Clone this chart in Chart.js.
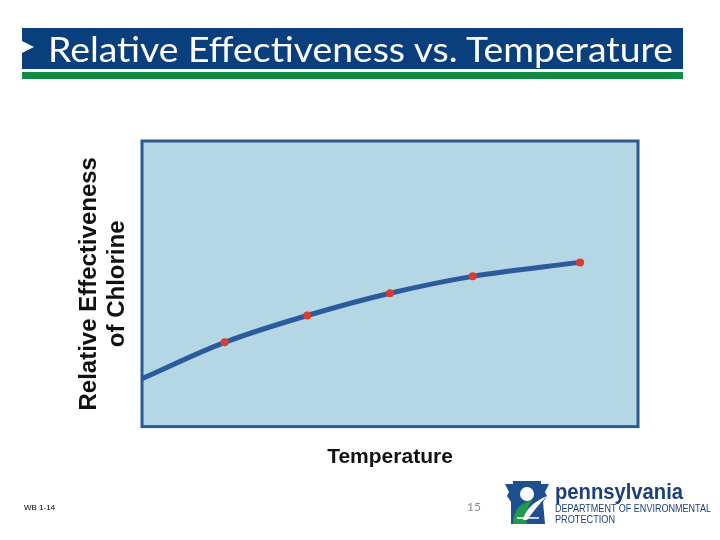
<!DOCTYPE html>
<html>
<head>
<meta charset="utf-8">
<script src="https://cdn.jsdelivr.net/npm/chart.js@4.4.1/dist/chart.umd.min.js"></script>
<style>
  html, body { margin: 0; padding: 0; background: #ffffff; }
  body { width: 720px; height: 540px; position: relative; overflow: hidden; }
  #chart { position: absolute; left: 0; top: 0; }
  .banner { position: absolute; left: 22px; top: 28px; width: 661px; height: 41px; background: #0a3f7d; }
  .arrow { position: absolute; left: 22px; top: 41px; width: 0; height: 0;
    border-top: 6px solid transparent; border-bottom: 6px solid transparent; border-left: 12px solid #ffffff; }
  .green { position: absolute; left: 22px; top: 72px; width: 661px; height: 7px; background: #138a43; }
  .fit { position: absolute; white-space: nowrap; transform-origin: 0 50%; }
  #title { left: 48px; top: 28px; height: 41px; line-height: 41px; color: #ffffff;
    font-family: Lato, "Open Sans", sans-serif; font-size: 35px; }
  .wb { position: absolute; left: 24px; top: 503px; font: 8px "Liberation Sans", Arial, sans-serif; color: #000; }
  .page { position: absolute; left: 467px; top: 499px; font: 12px Lato, sans-serif; color: #8a8a8a; }
  .logo { position: absolute; left: 503px; top: 480px; }
  #pa { left: 555px; top: 479px; line-height: 24px; font: bold 22px "Liberation Sans", sans-serif; color: #1d3f7a; }
  #dep1 { left: 555px; top: 503px; line-height: 12px; font: 10px "Liberation Sans", sans-serif; color: #1d3f7a; }
  #dep2 { left: 555px; top: 514px; line-height: 12px; font: 10px "Liberation Sans", sans-serif; color: #1d3f7a; }
</style>
</head>
<body>
<canvas id="chart" width="720" height="540"></canvas>
<div class="banner"></div>
<div class="arrow"></div>
<div class="green"></div>
<div id="title" class="fit">Relative Effectiveness vs. Temperature</div>
<div class="wb">WB 1-14</div>
<div class="page">15</div>
<svg class="logo" width="48" height="46" viewBox="0 0 48 46">
  <polygon points="2,4 10,4 10,1 38,1 38,4 46,4 42,12 44,16 40,22 42,44 8,44 8,22 4,16 6,12" fill="#1e4f8f"/>
  <circle cx="24" cy="14" r="7" fill="#ffffff"/>
  <path d="M10,44 C10,30 18,22 30,20 C24,26 22,34 24,44 Z" fill="#1f9a4a"/>
  <path d="M20,40 C22,30 30,22 44,16 C36,24 30,32 24,40 Z" fill="#ffffff"/>
  <path d="M14,38 L36,38" stroke="#ffffff" stroke-width="1.5"/>
</svg>
<div id="pa" class="fit">pennsylvania</div>
<div id="dep1" class="fit">DEPARTMENT OF ENVIRONMENTAL</div>
<div id="dep2" class="fit">PROTECTION</div>
<script>
  // valores (eixos sem escala numérica)
  const temperature = [0, 10, 20, 30, 40, 53];
  const effectiveness = [16.8, 29.5, 38.9, 46.7, 52.6, 57.5];
  const xTitle = "Temperature";
  const yTitle = ["Relative Effectiveness", "of Chlorine"];

  // ajusta textos HTML à largura medida na figura
  function ajustar(id, largura) {
    const el = document.getElementById(id);
    const w = el.getBoundingClientRect().width;
    el.style.transform = "scaleX(" + (largura / w) + ")";
  }
  ajustar("title", 625);
  ajustar("pa", 128);
  ajustar("dep1", 156);
  ajustar("dep2", 60);

  // fundo azul claro e moldura da área do gráfico
  const plotFrame = {
    id: "plotFrame",
    beforeDatasetsDraw(chart) {
      const { ctx, chartArea: a } = chart;
      ctx.save();
      ctx.fillStyle = "#b5d6e4";
      ctx.fillRect(a.left, a.top, a.right - a.left, a.bottom - a.top);
      ctx.restore();
    },
    afterDatasetsDraw(chart) {
      const { ctx, chartArea: a } = chart;
      ctx.save();
      ctx.strokeStyle = "#2d5992";
      ctx.lineWidth = 3;
      ctx.strokeRect(a.left, a.top, a.right - a.left, a.bottom - a.top);
      ctx.restore();
    },
  };

  new Chart(document.getElementById("chart"), {
    type: "line",
    data: {
      datasets: [
        {
          data: temperature.map((x, i) => ({ x: x, y: effectiveness[i] })),
          borderColor: "#2c5b9c",
          borderWidth: 5,
          cubicInterpolationMode: "monotone",
          pointRadius: (c) => (c.dataIndex === 0 ? 0 : 4),
          pointBackgroundColor: "#dd3a30",
          pointBorderWidth: 0,
          fill: false,
        },
      ],
    },
    options: {
      responsive: false,
      animation: false,
      layout: { padding: { left: 75, top: 141, right: 82, bottom: 68 } },
      plugins: { legend: { display: false }, tooltip: { enabled: false } },
      scales: {
        x: {
          type: "linear",
          min: 0,
          max: 60,
          grid: { display: false, drawTicks: false },
          border: { display: false },
          ticks: { display: false },
          title: {
            display: true,
            text: xTitle,
            color: "#111111",
            font: { family: "'Liberation Sans', Arial", size: 21, weight: "bold", lineHeight: 1.4 },
            padding: { top: 16, bottom: 0 },
          },
        },
        y: {
          min: 0,
          max: 100,
          grid: { display: false, drawTicks: false },
          border: { display: false },
          ticks: { display: false },
          title: {
            display: true,
            text: yTitle,
            color: "#111111",
            font: { family: "'Liberation Sans', Arial", size: 24, weight: "bold", lineHeight: 28 / 24 },
            padding: { top: 0, bottom: 11 },
          },
        },
      },
    },
    plugins: [plotFrame],
  });
</script>
</body>
</html>
